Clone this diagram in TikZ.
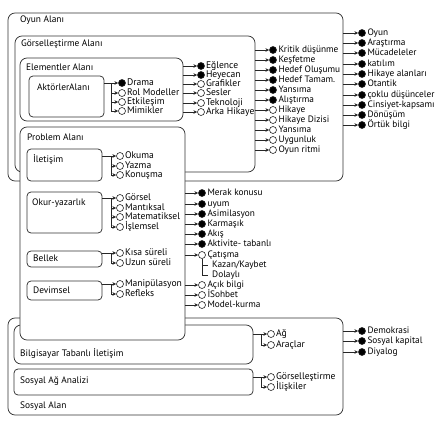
\documentclass[tikz,border=0pt]{standalone}
\usepackage{fontspec}
\setmainfont{PT Sans}
\usetikzlibrary{positioning,fit,arrows.meta}

\begin{document}
\begin{tikzpicture}[x=1pt,y=-1pt,>={Stealth[length=3.8pt,width=3.6pt]},
	box/.style={draw=black!80,line width=0.75pt,rounded corners=7pt,inner sep=0pt,fill=white},
	sbox/.style={box,rounded corners=4pt},
	ttl/.style={anchor=west,inner sep=0pt,font=\fontsize{9.4}{10}\selectfont},
	dotf/.style={circle,draw=black!85,fill=black,line width=0.6pt,inner sep=0pt,minimum size=7pt},
	doto/.style={dotf,fill=white},
	item/.style={inner sep=0pt,text height=6.4pt,text depth=1.6pt,font=\fontsize{9.6}{10}\selectfont},
	sitem/.style={inner sep=0pt,text height=6.2pt,text depth=1.6pt,font=\fontsize{9.3}{10}\selectfont},
	link/.style={draw=black!85,line width=0.65pt}]
\useasboundingbox (0,0) rectangle (443,423);

% oyun alani
\node[box,fit={(8,13) (343,181)}] (oyun) {};
\node[ttl] (oyunt) at (20,20) {Oyun Alanı};
\node[box,fit={(15,36) (255,172)}] (gors) {};
\node[ttl] (gorst) at (21,44) {Görselleştirme Alanı};
\node[box,fit={(20,58) (183,121)}] (elem) {};
\node[ttl] (elemt) at (26,67) {Elementler Alanı};
\node[sbox,fit={(29,76) (104,117)}] (akt) {};
\node[ttl] (aktt) at (37,87) {AktörlerAlanı};

% sosyal alan
\node[box,fit={(8,318) (343,415)}] (sos) {};
\node[ttl] (sost) at (20,406) {Sosyal Alan};
\node[box,fit={(14,325) (253,364)}] (bilg) {};
\node[ttl] (bilgt) at (20,353) {Bilgisayar Tabanlı İletişim};
\node[sbox,fit={(14,369) (253,395)}] (sag) {};
\node[ttl] (sagt) at (20,381) {Sosyal Ağ Analizi};

% problem alani
\node[box,fit={(20,127) (185,340)}] (prob) {};
\node[ttl] (probt) at (27,137) {Problem Alanı};
\node[sbox,fit={(27,149) (102,181)}] (ilet) {};
\node[ttl] (iletti) at (33,159) {İletişim};
\node[sbox,fit={(27,192) (102,233)}] (okur) {};
\node[ttl] (okurt) at (32,203) {Okur-yazarlık};
\node[sbox,fit={(27,251) (102,267)}] (bel) {};
\node[ttl] (belt) at (33,258) {Bellek};
\node[sbox,fit={(27,281) (102,300)}] (dev) {};
\node[ttl] (devt) at (33,290) {Devimsel};

% aktorler
\coordinate (aktbus) at (111,0);
\foreach \y/\lbl/\st [count=\i] in {83/Drama/f,93/Rol Modeller/o,102/Etkileşim/o,111/Mimikler/o}{
	\node[dot\st] (akt\i) at (122,\y) {};
	\node[item,right=1pt of akt\i] (aktx\i) {\lbl};
	\draw[link,->] (akt\i -| aktbus) -- (akt\i);
}
\draw[link] (akt.east |- akt1) -- (akt1 -| aktbus) -- (akt4 -| aktbus);

% elementler
\foreach \y/\lbl/\st [count=\i] in {66/Eğlence/f,75/Heyecan/f,84/Grafikler/o,93/Sesler/o,103/Teknoloji/o,112/Arka Hikaye/o}{
	\node[dot\st] (elem\i) at (201,\y) {};
	\node[item,right=1pt of elem\i] (elemx\i) {\lbl};
	\draw[link,->] (elem.east |- elem\i) -- (elem\i);
}

% gorsellestirme
\foreach \y/\lbl/\st [count=\i] in {50/Kritik düşünme/f,60/Keşfetme/f,70/Hedef Oluşumu/f,80/Hedef Tamam./f,90/Yansıma/f,100/Alıştırma/f,110/Hikaye/o,120/Hikaye Dizisi/o,130/Yansıma/o,140/Uygunluk/o,150/Oyun ritmi/o}{
	\node[dot\st] (gors\i) at (273,\y) {};
	\node[sitem,right=1.5pt of gors\i] (gorsx\i) {\lbl};
	\draw[link,->] (gors.east |- gors\i) -- (gors\i);
}

% oyun
\foreach \y/\lbl [count=\i] in {33/Oyun,43/Araştırma,53/Mücadeleler,64/katılım,74/Hikaye alanları,84/Otantik,95/çoklu düşünceler,105/Cinsiyet-kapsamı,115/Dönüşüm,125/Örtük bilgi}{
	\node[dotf] (oyun\i) at (362,\y) {};
	\node[sitem,right=1.5pt of oyun\i] (oyunx\i) {\lbl};
	\draw[link,->] (oyun.east |- oyun\i) -- (oyun\i);
}

% iletisim, okur-yazarlik, bellek, devimsel
\coordinate (pbus) at (111,0);
\foreach \y/\lbl [count=\i] in {156/Okuma,166/Yazma,175/Konuşma}{
	\node[doto] (ilet\i) at (120,\y) {};
	\node[item,right=1pt of ilet\i] (iletx\i) {\lbl};
	\draw[link,->] (ilet\i -| pbus) -- (ilet\i);
}
\draw[link] (ilet.east |- ilet1) -- (ilet1 -| pbus) -- (ilet3 -| pbus);
\foreach \y/\lbl [count=\i] in {198/Görsel,208/Mantıksal,217/Matematiksel,227/İşlemsel}{
	\node[doto] (okur\i) at (120,\y) {};
	\node[item,right=1pt of okur\i] (okurx\i) {\lbl};
	\draw[link,->] (okur\i -| pbus) -- (okur\i);
}
\draw[link] (okur.east |- okur1) -- (okur1 -| pbus) -- (okur4 -| pbus);
\foreach \y/\lbl [count=\i] in {253/Kısa süreli,263/Uzun süreli}{
	\node[doto] (bel\i) at (120,\y) {};
	\node[item,right=1pt of bel\i] (belx\i) {\lbl};
	\draw[link,->] (bel\i -| pbus) -- (bel\i);
}
\draw[link] (bel.east |- bel1) -- (bel1 -| pbus) -- (bel2 -| pbus);
\foreach \y/\lbl [count=\i] in {284/Manipülasyon,294/Refleks}{
	\node[doto] (dev\i) at (120,\y) {};
	\node[item,right=1pt of dev\i] (devx\i) {\lbl};
	\draw[link,->] (dev\i -| pbus) -- (dev\i);
}
\draw[link] (dev.east |- dev1) -- (dev1 -| pbus) -- (dev2 -| pbus);

% problem
\foreach \y/\lbl/\st [count=\i] in {193/Merak konusu/f,204/uyum/f,214/Asimilasyon/f,224/Karmaşık/f,234/Akış/f,244/Aktivite- tabanlı/f,255/Çatışma/o,285/Açık bilgi/o,295/İSohbet/o,305/Model-kurma/o}{
	\node[dot\st] (prob\i) at (202,\y) {};
	\node[sitem,right=1.5pt of prob\i] (probx\i) {\lbl};
	\draw[link,->] (prob.east |- prob\i) -- (prob\i);
}
\node[sitem,anchor=west] (kazan) at (212,265) {Kazan/Kaybet};
\node[sitem,anchor=west] (dolayli) at (212,275) {Dolaylı};
\draw[link] (prob7.south) |- ([xshift=-4pt]kazan.west);
\draw[link] (prob7.south) |- ([xshift=-4pt]dolayli.west);

% bilgisayar, sosyal ag
\coordinate (sbus) at (261,0);
\foreach \y/\lbl [count=\i] in {334/Ağ,345/Araçlar}{
	\node[doto] (bilg\i) at (271,\y) {};
	\node[item,right=1pt of bilg\i] (bilgx\i) {\lbl};
	\draw[link,->] (bilg\i -| sbus) -- (bilg\i);
}
\draw[link] (bilg.east |- bilg1) -- (bilg1 -| sbus) -- (bilg2 -| sbus);
\foreach \y/\lbl [count=\i] in {377/Görselleştirme,387/İlişkiler}{
	\node[doto] (sag\i) at (271,\y) {};
	\node[item,right=1pt of sag\i] (sagx\i) {\lbl};
	\draw[link,->] (sag\i -| sbus) -- (sag\i);
}
\draw[link] (sag.east |- sag1) -- (sag1 -| sbus) -- (sag2 -| sbus);

% sosyal alan
\foreach \y/\lbl [count=\i] in {331/Demokrasi,341/Sosyal kapital,352/Diyalog}{
	\node[dotf] (sos\i) at (362,\y) {};
	\node[sitem,right=1.5pt of sos\i] (sosx\i) {\lbl};
	\draw[link,->] (sos.east |- sos\i) -- (sos\i);
}
\end{tikzpicture}
\end{document}
